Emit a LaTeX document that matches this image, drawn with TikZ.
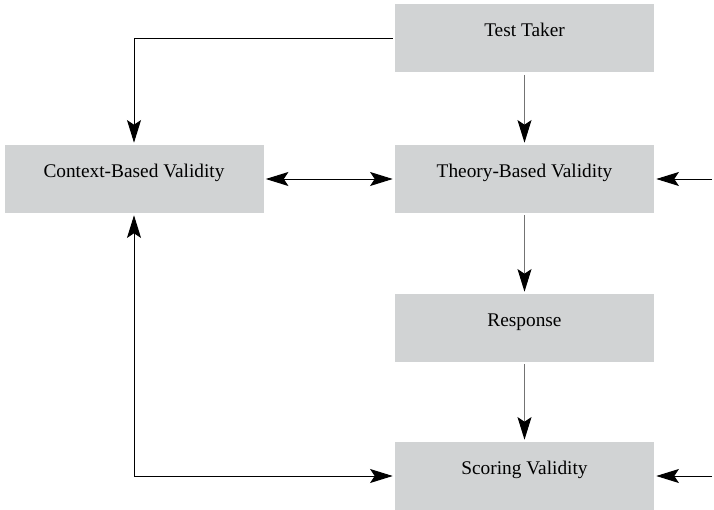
\documentclass[tikz,border=0pt]{standalone}
\usepackage{fontspec}
\setmainfont{Liberation Serif}
\usetikzlibrary{arrows.meta}
\definecolor{boxgray}{RGB}{209,211,212}
\tikzset{
  >={Stealth[length=17pt,width=10.5pt,inset=3.5pt,color=black]},
  box/.style={fill=boxgray, inner sep=0pt, minimum width=194.25pt, text height=24pt, text depth=27pt, font=\fontsize{14.5}{17}\selectfont},
  link/.style={line width=0.75pt, shorten >=1.5pt, shorten <=1.5pt},
  vlink/.style={link, draw=black!55},
}
\begin{document}
\begin{tikzpicture}[x=0.75pt,y=0.75pt,yscale=-1,xscale=1]
\useasboundingbox (0,0) rectangle (714,510);

%Boxes
\node [box] (tt)  at (524.5,38.5) {Test Taker};
\node [box] (ctx) at (134,179)    {Context-Based Validity};
\node [box] (thy) at (524.5,179)  {Theory-Based Validity};
\node [box] (rsp) at (524.5,328)  {Response};
\node [box] (sco) at (524.5,476)  {Scoring Validity};

%Free ends at the right edge
\coordinate (inT) at (714,179);
\coordinate (inS) at (714,476);

%Connectors
\draw [link,->]  (tt.west) -| (ctx.north);
\draw [vlink,->] (tt) -- (thy);
\draw [link,<->] (ctx) -- (thy);
\draw [link,->]  (inT) -- (thy);
\draw [vlink,->] (thy) -- (rsp);
\draw [vlink,->] (rsp) -- (sco);
\draw [link,<->] (ctx.south) |- (sco.west);
\draw [link,->]  (inS) -- (sco);

\end{tikzpicture}
\end{document}
